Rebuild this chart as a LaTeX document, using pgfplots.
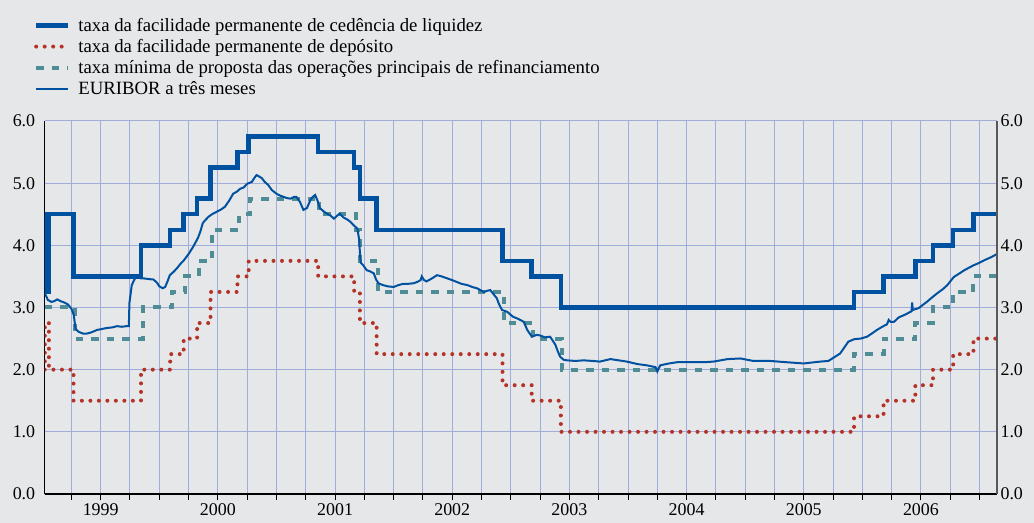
\documentclass[border=0pt]{standalone}
\usepackage{fontspec}
\setmainfont{Liberation Serif}
\usepackage{pgfplots}
\pgfplotsset{compat=1.18}
\definecolor{bg}{RGB}{230,231,233}
\definecolor{mlf}{RGB}{0,82,160}
\definecolor{mro}{RGB}{80,140,150}
\definecolor{dep}{RGB}{180,50,40}
\definecolor{gridc}{RGB}{160,172,218}

\pgfplotstableread{
x y
1999.022 4.50
1999.023 3.25
1999.058 4.50
1999.268 3.50
1999.844 4.00
2000.093 4.25
2000.208 4.50
2000.323 4.75
2000.437 5.25
2000.667 5.50
2000.763 5.75
2001.356 5.50
2001.663 5.25
2001.712 4.75
2001.855 4.25
2002.929 3.75
2003.178 3.50
2003.427 3.00
2005.929 3.25
2006.181 3.50
2006.452 3.75
2006.603 4.00
2006.775 4.25
2006.948 4.50
2007.149 4.50
}\mlfdata

\pgfplotstableread{
x y
1999.022 2.00
1999.023 2.75
1999.058 2.00
1999.268 1.50
1999.844 2.00
2000.093 2.25
2000.208 2.50
2000.323 2.75
2000.437 3.25
2000.667 3.50
2000.763 3.75
2001.356 3.50
2001.663 3.25
2001.712 2.75
2001.855 2.25
2002.929 1.75
2003.178 1.50
2003.427 1.00
2005.929 1.25
2006.181 1.50
2006.452 1.75
2006.603 2.00
2006.775 2.25
2006.948 2.50
2007.149 2.50
}\depdata

\pgfplotstableread{
x y
1999.022 3.00
1999.282 2.50
1999.858 3.00
2000.107 3.25
2000.222 3.50
2000.339 3.75
2000.454 4.25
2000.681 4.50
2000.777 4.75
2001.367 4.50
2001.677 4.25
2001.715 3.75
2001.868 3.25
2002.942 2.75
2003.192 2.50
2003.436 2.00
2005.929 2.25
2006.181 2.50
2006.452 2.75
2006.603 3.00
2006.775 3.25
2006.948 3.50
2007.149 3.50
}\mrodata

\pgfplotstableread{
x y
1999.022 3.23
1999.05 3.12
1999.08 3.09
1999.10 3.10
1999.13 3.13
1999.16 3.10
1999.19 3.08
1999.22 3.05
1999.25 2.98
1999.27 2.88
1999.285 2.66
1999.31 2.61
1999.35 2.58
1999.38 2.58
1999.42 2.60
1999.47 2.64
1999.50 2.65
1999.55 2.67
1999.60 2.68
1999.64 2.70
1999.68 2.69
1999.72 2.70
1999.74 2.70
1999.745 3.07
1999.765 3.36
1999.79 3.46
1999.81 3.49
1999.84 3.47
1999.86 3.47
1999.90 3.46
1999.95 3.45
1999.98 3.40
2000.00 3.34
2000.03 3.31
2000.05 3.33
2000.07 3.42
2000.09 3.52
2000.12 3.57
2000.15 3.63
2000.18 3.70
2000.21 3.76
2000.25 3.86
2000.29 3.98
2000.33 4.12
2000.35 4.22
2000.37 4.35
2000.38 4.38
2000.42 4.46
2000.45 4.50
2000.49 4.54
2000.53 4.58
2000.56 4.62
2000.60 4.73
2000.63 4.83
2000.66 4.86
2000.69 4.91
2000.72 4.93
2000.75 4.99
2000.79 5.02
2000.81 5.08
2000.83 5.13
2000.85 5.11
2000.875 5.08
2000.90 5.02
2000.93 4.97
2000.96 4.89
2001.00 4.83
2001.03 4.80
2001.06 4.78
2001.09 4.76
2001.12 4.75
2001.15 4.78
2001.17 4.78
2001.20 4.70
2001.23 4.57
2001.26 4.60
2001.29 4.73
2001.31 4.78
2001.33 4.81
2001.35 4.72
2001.37 4.60
2001.40 4.55
2001.43 4.51
2001.46 4.48
2001.49 4.43
2001.52 4.48
2001.54 4.51
2001.57 4.45
2001.60 4.42
2001.63 4.38
2001.66 4.32
2001.69 4.27
2001.705 4.10
2001.715 3.80
2001.72 3.72
2001.74 3.68
2001.77 3.60
2001.80 3.58
2001.83 3.55
2001.85 3.45
2001.87 3.39
2001.91 3.36
2001.95 3.34
2002.00 3.33
2002.04 3.36
2002.08 3.38
2002.12 3.38
2002.17 3.39
2002.20 3.41
2002.23 3.44
2002.24 3.50
2002.26 3.44
2002.28 3.42
2002.32 3.46
2002.37 3.52
2002.41 3.50
2002.455 3.47
2002.50 3.44
2002.54 3.41
2002.58 3.38
2002.63 3.36
2002.67 3.33
2002.71 3.31
2002.74 3.28
2002.77 3.25
2002.80 3.27
2002.825 3.28
2002.85 3.22
2002.88 3.15
2002.90 3.05
2002.925 2.96
2002.97 2.93
2003.00 2.88
2003.02 2.85
2003.06 2.82
2003.11 2.77
2003.14 2.64
2003.18 2.53
2003.22 2.56
2003.25 2.55
2003.29 2.52
2003.335 2.53
2003.36 2.46
2003.38 2.40
2003.40 2.30
2003.42 2.21
2003.45 2.16
2003.48 2.15
2003.55 2.14
2003.62 2.15
2003.70 2.14
2003.76 2.13
2003.85 2.17
2003.92 2.15
2003.99 2.13
2004.08 2.09
2004.16 2.07
2004.235 2.04
2004.25 1.97
2004.275 2.07
2004.35 2.10
2004.42 2.12
2004.56 2.12
2004.65 2.12
2004.73 2.13
2004.85 2.17
2004.96 2.18
2005.07 2.14
2005.215 2.14
2005.35 2.12
2005.50 2.10
2005.64 2.13
2005.71 2.14
2005.76 2.20
2005.81 2.26
2005.84 2.34
2005.88 2.45
2005.93 2.49
2005.985 2.50
2006.04 2.53
2006.08 2.58
2006.125 2.64
2006.17 2.69
2006.21 2.73
2006.225 2.80
2006.24 2.77
2006.27 2.77
2006.31 2.84
2006.37 2.89
2006.42 2.94
2006.425 3.08
2006.43 2.96
2006.48 2.99
2006.55 3.09
2006.60 3.17
2006.64 3.23
2006.69 3.30
2006.725 3.36
2006.78 3.49
2006.83 3.55
2006.87 3.60
2006.91 3.64
2006.95 3.68
2007.00 3.72
2007.04 3.76
2007.10 3.81
2007.149 3.86
}\euribor

\begin{document}
\begin{tikzpicture}
\fill[bg] (0,0) rectangle (1034bp,523bp);
\begin{axis}[
  at={(44.7bp,29bp)}, anchor=south west,
  scale only axis, width=952.3bp, height=373bp,
  xmin=1999.022, xmax=2007.149, ymin=0, ymax=6,
  axis x line*=bottom, axis y line*=left,
  x axis line style={black, line width=1.2bp},
  y axis line style={black, line width=1.2bp},
  xtick={1999.5,2000.5,2001.5,2002.5,2003.5,2004.5,2005.5,2006.5},
  xticklabels={1999,2000,2001,2002,2003,2004,2005,2006},
  minor xtick={1999.25,1999.5,...,2007},
  ytick={0,1,2,3,4,5,6},
  grid=both,
  major grid style={gridc, line width=1bp},
  minor grid style={gridc, line width=1bp},
  tick align=outside,
  major tick length=6bp, minor tick length=6bp,
  xtick style={black, line width=1bp},
  ytick style={draw=none},
  tick label style={font=\fontsize{18}{20}\selectfont},
  /pgf/number format/assume math mode=true,
  yticklabel style={/pgf/number format/.cd, fixed, fixed zerofill, precision=1},
  legend style={at={(rel axis cs:-0.0115,1.282)}, anchor=north west, draw=none, fill=none,
    font=\fontsize{18.8}{21}\selectfont, row sep=2.6bp, column sep=6bp, inner sep=0pt,
    cells={anchor=west}},
  legend cell align=left,
  legend image code/.code={\draw[#1] (0bp,0bp) -- (32bp,0bp);},
]
\addplot[const plot, mlf, line width=4.5bp] table {\mlfdata};
\addlegendentry{taxa da facilidade permanente de cedência de liquidez}
\addplot[const plot, dep, line width=4bp, line cap=round, dash pattern=on 0bp off 8.5bp] table {\depdata};
\addlegendentry{taxa da facilidade permanente de depósito}
\addplot[const plot, mro, line width=4bp, dash pattern=on 7.5bp off 8bp] table {\mrodata};
\addlegendentry{taxa mínima de proposta das operações principais de refinanciamento}
\addplot[mlf, line width=2bp] table {\euribor};
\addlegendentry{EURIBOR a três meses}
\end{axis}
\begin{axis}[
  at={(44.7bp,29bp)}, anchor=south west,
  scale only axis, width=952.3bp, height=373bp,
  xmin=1999.022, xmax=2007.149, ymin=0, ymax=6,
  axis x line=none, axis y line*=right,
  y axis line style={black!65, line width=1.5bp},
  ytick={0,1,2,3,4,5,6},
  ytick style={draw=none},
  tick label style={font=\fontsize{18}{20}\selectfont},
  /pgf/number format/assume math mode=true,
  yticklabel style={/pgf/number format/.cd, fixed, fixed zerofill, precision=1},
]
\end{axis}
\end{tikzpicture}
\end{document}
